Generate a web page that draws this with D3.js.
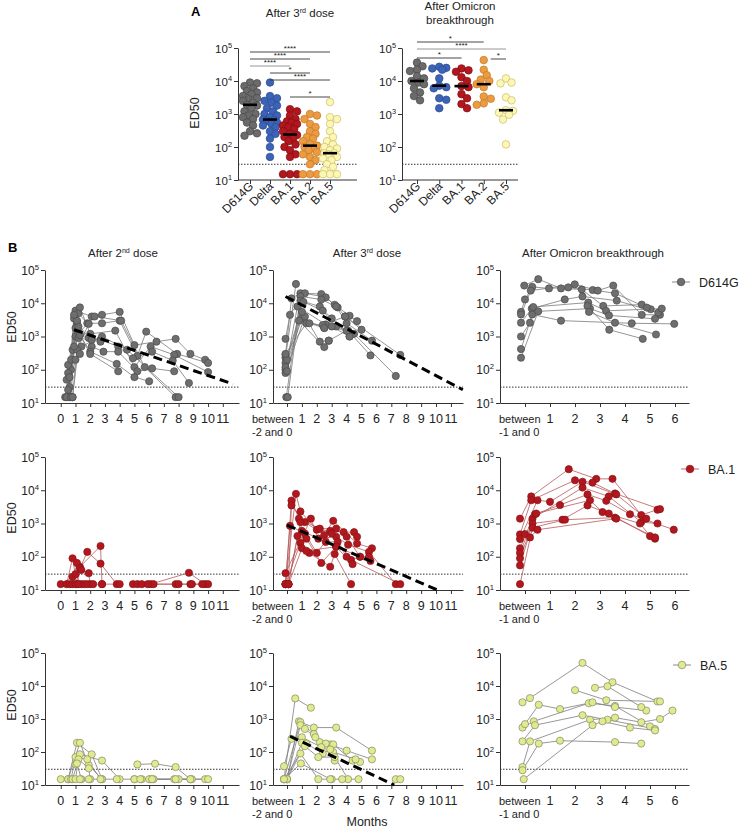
<!DOCTYPE html>
<html><head><meta charset="utf-8">
<script src="https://cdn.jsdelivr.net/npm/d3@7"></script>
<style>body{margin:0;background:#fff}</style>
</head><body>
<svg id="c" width="740" height="831"></svg>
<script>
// ---------------- DATA ----------------
const aCats = ["D614G","Delta","BA.1","BA.2","BA.5"];
// Panel A – after 3rd dose (ED50)
const a3_D614G = [9000,8500,7000,6000,5000,4500,4000,3500,3000,2800,2500,2200,1900,1800,1500,1200,1000,900,800,700,550,450,300,220,260];
const a3_Delta = [9000,3500,3000,2500,2200,1800,1500,1200,1000,900,800,680,650,620,550,500,450,400,300,250,180,100,50];
const a3_BA1 = [1400,1200,900,700,600,550,500,450,400,350,300,250,230,200,180,150,120,100,80,60,50,15,15,15];
const a3_BA2 = [1000,900,700,500,400,300,250,200,180,150,120,110,100,90,80,70,60,50,40,30,15,15,15];
const a3_BA5 = [2300,800,700,500,300,200,150,120,100,90,80,65,65,60,50,45,40,30,25,20,15,15,15];
// Panel A – after Omicron breakthrough
const aOm_D614G = [36000,28000,22000,20000,14000,12000,10000,9000,8000,6000,4500,3500,2600];
const aOm_Delta = [27000,25000,24000,22000,12000,7200,6500,6000,3000,2700,1500];
const aOm_BA1 = [24000,21000,19000,13000,10000,7000,6500,4000,3000,2000,1500];
const aOm_BA2 = [43000,22000,15000,11000,10000,8000,6500,3400,2900,2100,1900];
const aOm_BA5 = [12000,9000,8500,3200,2600,1300,1250,1100,950,680,120];
// significance: [from, to, label]
const a3_sig = [["D614G","BA.5","****"],["D614G","BA.2","****"],["D614G","BA.1","****"],["Delta","BA.2","*"],["Delta","BA.5","****"],["BA.1","BA.5","*"]];
const aOm_sig = [["D614G","BA.2","*"],["D614G","BA.5","****"],["D614G","BA.1","*"],["BA.2","BA.5","*"]];
const lod = 30;

// Panel B – per-subject trajectories [month, ED50]
const b2_D614G = [
 [[0.5,15],[1.0,6000],[2.1,4000],[2.8,4500],[4.0,5500],[5.0,550],[6.5,700],[7.8,850],[8.8,300],[9.8,200]],
 [[0.6,30],[1.2,5000],[1.8,2500],[2.8,2500],[4.0,3000],[5.2,260],[5.8,1400],[7.9,300],[10.0,160]],
 [[0.4,50],[1.3,7500],[2.0,1200],[3.7,1500],[5.0,120],[6.1,500],[7.7,280],[10.0,85]],
 [[0.7,100],[0.9,3500],[1.9,900],[2.7,800],[3.9,500],[4.9,220],[6.2,350],[7.6,190],[8.7,40]],
 [[0.5,140],[1.1,2700],[2.1,500],[2.9,350],[3.9,350],[5.2,90],[6.2,110],[7.7,90]],
 [[0.6,15],[1.0,1800],[2.0,350],[3.8,150],[5.0,60],[6.0,45]],
 [[0.3,15],[1.2,1300],[2.0,300],[3.9,90]],
 [[0.7,200],[1.0,1000],[2.3,4000],[4.1,3000],[5.7,120],[7.8,15]],
 [[0.5,80],[1.4,500],[2.8,1000],[4.5,400],[8.0,15]],
 [[0.8,400],[1.2,900],[2.7,700]],
 [[0.8,15],[1.1,400],[1.9,2400]],
 [[0.4,15],[1.0,200],[1.3,300]],
 [[0.7,15],[0.9,500],[1.2,2000]],
 [[0.6,60],[1.1,3000]],
 [[0.5,25],[0.9,4500]],
 [[0.8,15],[1.3,1100],[2.1,800]]
];
const b2_BA1 = [
 [[0.0,15],[0.8,25],[1.3,50],[2.7,210],[2.8,15]],
 [[0.4,15],[0.8,90],[1.1,15]],
 [[0.6,15],[1.0,30],[1.4,15]],
 [[0.8,15],[1.1,65],[1.3,45],[1.8,140],[2.7,62],[3.8,15]],
 [[1.0,15],[1.4,40],[1.9,32],[2.0,15]],
 [[1.2,15],[1.6,15],[2.8,15],[4.0,15]],
 [[4.9,15],[5.2,15],[6.1,15],[8.7,33],[9.8,15]],
 [[5.5,15],[6.3,15],[7.8,15],[8.8,15],[10.0,15]],
 [[5.9,15],[8.0,15],[8.9,15],[9.6,15]],
 [[1.8,15],[2.2,15]]
];
const b2_BA5 = [
 [[0.0,15],[0.5,15],[1.1,190],[2.1,85],[2.8,15]],
 [[0.5,15],[1.3,190],[1.9,40],[2.8,15]],
 [[0.7,15],[1.0,70],[1.8,60],[2.7,15]],
 [[0.8,15],[1.3,85],[2.8,55],[4.0,15]],
 [[1.0,15],[1.2,60],[1.9,32],[2.0,15]],
 [[1.0,42],[1.1,45],[1.4,15]],
 [[1.3,15],[1.9,15],[3.8,15],[5.0,15]],
 [[5.2,42],[6.4,44],[7.8,35],[8.8,15]],
 [[5.0,15],[5.5,15],[6.1,15],[7.7,15],[8.9,15],[9.8,15]],
 [[5.4,15],[6.0,15],[6.3,15],[8.0,15],[10.0,15]],
 [[6.2,15],[7.8,15],[8.8,15]]
];
const b3_D614G = [
 [[-0.1,230],[0.6,38000]],
 [[-0.1,280],[0.3,14000],[0.9,20000],[2.3,19000],[3.2,9000],[4.2,4200],[4.7,2900]],
 [[-0.1,850],[0.2,4500],[1.2,20000],[2.6,15000],[3.4,7500],[3.9,4000],[5.0,1600]],
 [[-0.05,15],[0.9,16000],[2.3,13000],[3.3,8000],[4.0,2500],[5.7,750]],
 [[0.05,15],[0.9,12000],[2.2,8000],[3.0,3500],[4.2,1000]],
 [[-0.1,160],[1.1,11000],[2.4,6000],[3.3,2000],[4.1,1500],[5.6,270]],
 [[-0.1,100],[0.7,8000],[2.6,2300],[4.5,1200],[7.3,65]],
 [[-0.1,120],[1.0,3500],[2.5,1800],[3.0,2000],[4.2,1000]],
 [[-0.1,80],[1.2,4000],[2.2,700],[2.8,750],[4.0,1500]],
 [[0.0,200],[0.8,3000],[2.5,480],[2.8,750]],
 [[-0.1,300],[1.3,2500],[2.4,2200],[3.9,4000],[7.6,280]],
 [[0.0,90],[1.0,5500],[1.5,2500],[2.5,1800]]
];
const b3_BA1 = [
 [[-0.1,15],[0.6,7800],[0.9,2300],[2.0,650],[2.9,600],[3.8,550],[4.5,550],[4.7,400]],
 [[-0.1,15],[0.3,4900],[0.8,1400],[2.2,700],[3.3,700],[4.0,400],[4.9,100]],
 [[0.1,15],[0.3,3500],[1.2,1100],[2.5,450],[3.1,1200],[4.7,250],[5.7,180]],
 [[-0.1,32],[1.6,1400],[2.1,350],[3.3,400],[4.1,230],[5.5,140],[7.3,15]],
 [[0.1,15],[0.9,1100],[1.0,600],[2.6,280],[3.4,280],[4.3,80],[7.6,15]],
 [[-0.1,15],[0.2,850],[1.2,500],[2.0,130],[3.0,500],[4.0,100],[5.6,75]],
 [[0.1,15],[0.7,420],[1.3,350],[2.3,65],[3.3,200],[4.4,60]],
 [[-0.1,15],[0.9,260],[1.5,130],[2.9,50],[3.2,120],[4.3,15]],
 [[0.1,15],[1.0,180],[1.3,150],[3.3,200],[4.9,100],[5.5,100]]
];
const b3_BA5 = [
 [[-0.2,15],[0.55,4200],[1.6,2200]],
 [[0.0,15],[0.8,850],[1.8,550],[3.3,550],[5.7,110]],
 [[-0.2,15],[0.9,800],[1.8,350],[2.2,200],[2.9,170],[4.0,110],[5.7,60]],
 [[0.0,15],[0.9,650],[1.2,500],[1.9,280],[2.6,180],[3.1,170],[4.4,55],[4.9,50]],
 [[-0.2,37],[0.3,250],[1.0,280],[2.3,140],[3.1,100],[4.6,60]],
 [[0.0,15],[1.0,190],[1.3,180],[2.4,90],[2.9,120],[3.2,55]],
 [[-0.2,15],[1.2,150],[2.1,70],[3.2,70],[4.1,15]],
 [[0.0,15],[0.9,90],[2.1,15],[3.0,15]],
 [[-0.2,15],[0.93,45],[2.9,15],[3.7,15],[4.8,15]],
 [[7.3,15],[7.6,15]]
];
const bOm_D614G = [
 [[-0.03,34000],[0.53,53000],[1.44,28000],[2.27,26000],[3.13,8300],[4.67,9100],[5.03,6600]],
 [[-0.16,5500],[0.0,13000],[0.29,31000],[0.96,28000],[1.73,30000],[2.71,25000],[3.6,20000],[4.87,7400]],
 [[-0.16,4600],[0.23,24000],[1.99,37000],[2.91,24000],[3.53,34000],[4.67,4500],[5.4,4500]],
 [[-0.16,2600],[0.27,6900],[1.59,13000],[2.3,16000],[3.67,12000],[5.33,5200]],
 [[-0.16,1000],[0.2,2600],[0.33,7700],[2.53,10500],[3.24,5900],[5.47,6900]],
 [[-0.16,420],[0.29,4600],[1.44,3000],[4.27,2500],[5.97,2400]],
 [[-0.16,230],[0.53,5700],[2.6,6900],[3.36,4300],[5.2,3400]],
 [[2.5,8300],[3.37,1600],[4.71,850]],
 [[2.56,5500],[3.6,2600],[5.24,1150]]
];
const bOm_BA1 = [
 [[-0.2,1400],[0.25,6500],[1.75,43000],[2.85,22000],[3.5,22000],[4.65,1800],[5.3,2600]],
 [[-0.2,470],[0.25,5000],[2.0,20000],[2.7,17000],[3.6,8000],[5.4,2700]],
 [[-0.2,340],[0.5,5000],[1.0,4500],[2.3,18000],[3.65,7500],[4.85,1400]],
 [[-0.2,180],[0.3,1400],[2.3,12000],[3.35,6500],[4.65,1100],[5.3,1000]],
 [[-0.2,130],[0.4,1900],[1.4,3600],[2.5,7500],[3.25,4800],[4.2,1900],[5.95,650]],
 [[-0.2,90],[0.45,2000],[2.6,5000],[3.1,2200],[4.6,1000],[5.0,420]],
 [[-0.2,55],[0.3,1000],[1.5,1300],[2.5,3500],[3.35,2000],[5.2,350]],
 [[-0.2,15],[0.3,750],[1.6,1300],[3.6,1500],[5.2,380]],
 [[0.0,480],[0.2,380],[0.5,650],[3.65,1400]]
];
const bOm_BA5 = [
 [[-0.1,3200],[0.2,4300],[2.3,50000],[3.5,13000],[5.3,3400]],
 [[-0.1,550],[0.35,850],[2.55,3000],[3.6,2500],[5.0,600]],
 [[0.0,700],[0.55,2700],[1.4,2000],[2.7,3200],[3.6,2300],[4.85,1800]],
 [[-0.1,210],[0.4,650],[2.3,1300],[3.3,950],[5.2,500]],
 [[-0.1,35],[0.2,210],[2.6,950],[3.6,1100],[4.65,800],[5.4,1000],[5.9,1800]],
 [[-0.1,28],[0.55,180],[1.4,220],[3.6,200],[4.65,180]],
 [[-0.05,15],[2.7,650],[3.1,850],[4.2,550],[5.2,450]],
 [[2.0,7500],[3.25,3700],[5.4,3400]],
 [[2.8,8800],[3.3,9800],[4.65,2300]]
];
// regression (decay) fits: two end points [month, ED50]
const b2_D614G_fit = [[0.9,1600],[11.7,37]];
const b3_D614G_fit = [[-0.1,16000],[11.8,25]];
const b3_BA1_fit = [[0.0,900],[10.1,10]];
const b3_BA5_fit = [[0.2,300],[7.2,10]];
const monthTicks1 = [0,1,2,3,4,5,6,7,8,9,10,11];
const monthTicks3 = [0,1,2,3,4,5,6];
const colTitles = [["After 2","nd"," dose"],["After 3","rd"," dose"],["After Omicron breakthrough","",""]];
const betweenLabels = [null,"-2 and 0","-1 and 0"];
const variants = ["D614G","BA.1","BA.5"];

// ---------------- STYLE ----------------
const FONT = "'Liberation Sans', Arial, Helvetica, sans-serif";
const colA = {"D614G":["#6b6b6b","#474747"],"Delta":["#3d63b8","#2a4a8e"],"BA.1":["#b3171d","#7e0f13"],"BA.2":["#eb9b40","#c4792a"],"BA.5":["#fcf7b4","#cbbd6a"]};
const colB = {"D614G":{fill:"#6e6e6e",stroke:"#4a4a4a",line:"#7a7a7a"},"BA.1":{fill:"#b3171d",stroke:"#85161a",line:"#b75a5c"},"BA.5":{fill:"#e0eb8e",stroke:"#86866a",line:"#7d7d7d"}};

const svg = d3.select("#c").style("font-family",FONT);
const INK = "#222";

function yAxisLog(y, x0, fs){
  const g = svg.append("g");
  const ax = d3.axisLeft(y).tickValues([10,100,1000,1e4,1e5]).tickSize(4).tickSizeOuter(0).tickFormat("");
  const gg = g.append("g").attr("transform",`translate(${x0},0)`).call(ax);
  gg.select(".domain").attr("stroke","#333").attr("stroke-width",1);
  gg.selectAll(".tick line").attr("stroke","#333");
  [1,2,3,4,5].forEach(e=>{
    const t = g.append("text").attr("x",x0-6).attr("y",y(10**e)+4.5)
      .attr("text-anchor","end").attr("font-size",fs).attr("fill",INK);
    t.append("tspan").text("10");
    t.append("tspan").attr("dy",-5).attr("font-size",fs*0.64).text(e);
  });
}
function ylabel(x,y,fs){
  svg.append("text").attr("transform",`translate(${x},${y}) rotate(-90)`).attr("text-anchor","middle")
    .attr("font-size",fs).attr("fill",INK).text("ED50");
}
function supTitle(x,y,parts,fs){
  const t = svg.append("text").attr("x",x).attr("y",y).attr("text-anchor","middle").attr("font-size",fs).attr("fill",INK);
  t.append("tspan").text(parts[0]);
  if(parts[1]){
    t.append("tspan").attr("dy",-4).attr("font-size",fs*0.62).text(parts[1]);
    t.append("tspan").attr("dy",4).text(parts[2]);
  }
}

// ---------------- PANEL A ----------------
function swarm(vals, y, cx, r){
  const pts = vals.map(v=>({v, py:y(v)})).sort((a,b)=>a.py-b.py);
  const placed=[];
  const cands=[0,3,-3,5.5,-5.5,7,-7,1.5,-1.5,4.2,-4.2];
  pts.forEach(p=>{
    let best=0,bestD=-1;
    for(const c of cands){
      let md=Infinity;
      placed.forEach(q=>{const d=Math.hypot(q.dx-c,q.py-p.py); if(d<md)md=d;});
      if(md>=r*1.6){best=c;bestD=md;break;}
      if(md>bestD){bestD=md;best=c;}
    }
    p.dx=best; placed.push(p);
  });
  return pts.map(p=>({v:p.v, py:p.py, px:cx+p.dx}));
}

function panelA(opts){
  const y = d3.scaleLog().domain([10,1e5]).range([180,48]);
  const x = d3.scalePoint().domain(aCats).range(opts.catRange);
  yAxisLog(y, opts.ax0, 11.5);
  // x axis
  const xa = d3.axisBottom(x).tickSize(4).tickSizeOuter(0).tickFormat("");
  const gx = svg.append("g").attr("transform","translate(0,180)").call(xa);
  gx.select(".domain").attr("d",`M${opts.ax0},0H${opts.ax1}`).attr("stroke","#333");
  gx.selectAll(".tick line").attr("stroke","#333");
  aCats.forEach(c=>{
    svg.append("text").attr("transform",`translate(${x(c)+4},${187}) rotate(-45)`)
      .attr("text-anchor","end").attr("font-size",12).attr("fill",INK).text(c);
  });
  // LOD
  svg.append("line").attr("x1",opts.ax0).attr("x2",opts.ax1).attr("y1",y(lod)).attr("y2",y(lod))
    .attr("stroke","#333").attr("stroke-dasharray","1.5,1.5");
  // points
  opts.series.forEach((vals,i)=>{
    const c = aCats[i];
    const pts = swarm(vals, y, x(c), 3.8);
    svg.append("g").selectAll("circle").data(pts).join("circle")
      .attr("cx",d=>d.px).attr("cy",d=>d.py).attr("r",3.8)
      .attr("fill",colA[c][0]).attr("stroke",colA[c][1]).attr("stroke-width",0.7);
    const m = d3.median(vals);
    svg.append("line").attr("x1",x(c)-7).attr("x2",x(c)+7).attr("y1",y(m)).attr("y2",y(m))
      .attr("stroke","#000").attr("stroke-width",2.6);
  });
  // significance
  opts.sig.forEach((s,i)=>{
    const yy = opts.sigY[i];
    const x1 = x(s[0]) + (opts.sigShift && opts.sigShift[i] ? opts.sigShift[i] : 0), x2 = x(s[1]);
    svg.append("line").attr("x1",x1).attr("x2",x2).attr("y1",yy).attr("y2",yy)
      .attr("stroke", opts.sigGrey && opts.sigGrey[i] ? "#8a8a8a" : "#333").attr("stroke-width",0.9);
    svg.append("text").attr("x",(x1+x2)/2).attr("y",yy-0.8).attr("text-anchor","middle")
      .attr("font-size",8).attr("fill",INK).text(s[2]);
  });
}

panelA({ax0:238, ax1:357, catRange:[250,330], series:[a3_D614G,a3_Delta,a3_BA1,a3_BA2,a3_BA5],
  sig:a3_sig, sigY:[52,59,66,73,80,97], sigGrey:[0,0,1,0,0,0]});
panelA({ax0:402, ax1:518, catRange:[417,506], series:[aOm_D614G,aOm_Delta,aOm_BA1,aOm_BA2,aOm_BA5],
  sig:aOm_sig, sigY:[42,49,58,59], sigGrey:[0,1,0,0], sigShift:[0,0,0,7]});

svg.append("text").attr("x",191).attr("y",16).attr("font-size",13).attr("font-weight","bold").attr("fill","#000").text("A");
supTitle(300,17,["After 3","rd"," dose"],11.5);
svg.append("text").attr("x",460).attr("y",10).attr("text-anchor","middle").attr("font-size",11.5).attr("fill",INK).text("After Omicron");
svg.append("text").attr("x",460).attr("y",24).attr("text-anchor","middle").attr("font-size",11.5).attr("fill",INK).text("breakthrough");
ylabel(199,113,12.5);

// ---------------- PANEL B ----------------
const rows = [{y0:403,y1:270,lab:327},{y0:590,y1:457,lab:518},{y0:785,y1:653,lab:705}];
const cols = [
  {x0:45,x1:239,dom:[-1.07,12.1],ticks:monthTicks1,tcx:123},
  {x0:273,x1:463,dom:[-0.94,11.81],ticks:monthTicks1,tcx:367,bOff:-35},
  {x0:500,x1:689,dom:[-1,6.56],ticks:monthTicks3,tcx:593,bOff:-26}
];
const bData = [[b2_D614G,b3_D614G,bOm_D614G],[b2_BA1,b3_BA1,bOm_BA1],[b2_BA5,b3_BA5,bOm_BA5]];
const bFits = [[b2_D614G_fit,b3_D614G_fit,null],[null,b3_BA1_fit,null],[null,b3_BA5_fit,null]];
const legendX = [681,690,682];

rows.forEach((row,ri)=>{
  const vname = variants[ri];
  const st = colB[vname];
  const y = d3.scaleLog().domain([10,1e5]).range([row.y0,row.y1]);
  cols.forEach((col,ci)=>{
    const x = d3.scaleLinear().domain(col.dom).range([col.x0,col.x1]);
    yAxisLog(y, col.x0, 12);
    const xa = d3.axisBottom(x).tickValues(col.ticks).tickSize(4).tickSizeOuter(0).tickFormat("");
    const gx = svg.append("g").attr("transform",`translate(0,${row.y0})`).call(xa);
    gx.select(".domain").attr("stroke","#333");
    gx.selectAll(".tick line").attr("stroke","#333");
    col.ticks.forEach(t=>{
      if(t===0 && betweenLabels[ci]){
        svg.append("text").attr("x",x(0)+col.bOff).attr("y",row.y0+20).attr("font-size",11).attr("fill",INK).text("between");
        svg.append("text").attr("x",x(0)+col.bOff).attr("y",row.y0+33).attr("font-size",11).attr("fill",INK).text(betweenLabels[ci]);
      } else {
        svg.append("text").attr("x",x(t)).attr("y",row.y0+20).attr("text-anchor","middle").attr("font-size",12.5).attr("fill",INK).text(t);
      }
    });
    // LOD
    svg.append("line").attr("x1",col.x0).attr("x2",col.x1).attr("y1",y(lod)).attr("y2",y(lod))
      .attr("stroke","#333").attr("stroke-dasharray","1.5,1.5");
    const line = d3.line().x(d=>x(d[0])).y(d=>y(d[1]));
    const subj = bData[ri][ci];
    svg.append("g").selectAll("path").data(subj).join("path")
      .attr("d",line).attr("fill","none").attr("stroke",st.line).attr("stroke-width",0.8);
    svg.append("g").selectAll("circle").data(subj.flat()).join("circle")
      .attr("cx",d=>x(d[0])).attr("cy",d=>y(d[1])).attr("r",3.6)
      .attr("fill",st.fill).attr("stroke",st.stroke).attr("stroke-width",0.7);
    const fit = bFits[ri][ci];
    if(fit){
      svg.append("path").attr("d",line(fit)).attr("fill","none").attr("stroke","#000")
        .attr("stroke-width",3).attr("stroke-dasharray","9,5");
    }
    if(ri===0) supTitle(col.tcx,257,colTitles[ci],11.5);
  });
  ylabel(16,row.lab,12.5);
  // legend
  const lx = legendX[ri], ly = row.y1 + 12;
  svg.append("line").attr("x1",lx-9).attr("x2",lx+9).attr("y1",ly).attr("y2",ly).attr("stroke",st.line).attr("stroke-width",0.9);
  svg.append("circle").attr("cx",lx).attr("cy",ly).attr("r",3.8).attr("fill",st.fill).attr("stroke",st.stroke).attr("stroke-width",0.7);
  svg.append("text").attr("x",lx+18).attr("y",ly+4.5).attr("font-size",12.5).attr("fill",INK).text(vname);
});
svg.append("text").attr("x",8).attr("y",252).attr("font-size",13).attr("font-weight","bold").attr("fill","#000").text("B");
svg.append("text").attr("x",367).attr("y",826).attr("text-anchor","middle").attr("font-size",12.5).attr("fill",INK).text("Months");
</script>
</body></html>
